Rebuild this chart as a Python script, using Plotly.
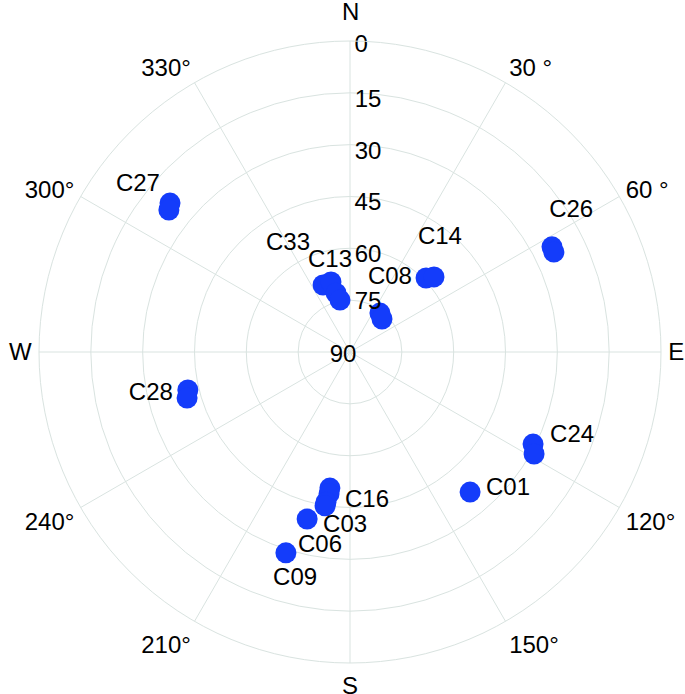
import plotly.graph_objects as go

# satellite tracks: elevation (deg) and azimuth (deg), a few epochs each
sat_names = ["C27", "C26", "C14", "C08", "C33", "C13", "C28",
             "C24", "C01", "C16", "C03", "C06", "C09"]
sat_el = [[22.4, 23.4], [24.1, 24.3], [59.3, 57.4], [75.8, 76.7],
          [69.1, 69.0], [72.5, 74.7], [41.8, 41.0], [30.7, 29.1],
          [36.6], [50.2, 48.5], [46.0, 44.9], [40.1], [29.0]]
sat_az = [[309.6, 308.1], [62.5, 63.9], [45.8, 48.2], [37.6, 44.1],
          [338.1, 344.8], [346.7, 349.1], [256.8, 254.2], [116.7, 119.0],
          [139.4], [188.4, 188.4], [189.1, 189.2], [194.4], [197.7]]

# where each PRN label sits (elevation, azimuth)
label_el = [11.9, 14.1, 48.0, 65.7, 54.0, 63.0, 31.1,
            21.3, 29.5, 46.6, 39.6, 33.2, 22.4]
label_az = [308.2, 57.5, 38.3, 28.4, 330.1, 347.6, 258.1,
            110.7, 130.9, 173.5, 181.6, 188.8, 193.6]

elev_ticks = [0, 15, 30, 45, 60, 75, 90]
# elevation labels sit just right of the north spoke, a bit below each ring
elev_lab_zen = [88.6, 72.8, 57.8, 43.1, 28.3, 15.1, 2.3]
elev_lab_az = [2.1, 4.1, 5.2, 6.9, 10.6, 20.2, 240.3]

az_ticks = [0, 30, 60, 90, 120, 150, 180, 210, 240, 270, 300, 330]
az_labels = ["", "30 °", "60 °", "E", "120°", "150°", "S",
             "210°", "240°", "W", "300°", "330°"]

grid = "#d9e3e0"
dot = "#143cfa"
font = dict(family="Liberation Sans, Arial, sans-serif", size=24, color="black")

fig = go.Figure()

for name, el, az in zip(sat_names, sat_el, sat_az):
    fig.add_trace(go.Scatterpolar(
        r=[90 - e for e in el],
        theta=az,
        mode="markers",
        marker=dict(size=21, color=dot),
        name=name,
        showlegend=False,
    ))

fig.add_trace(go.Scatterpolar(
    r=[90 - e for e in label_el],
    theta=label_az,
    mode="text",
    text=sat_names,
    textfont=font,
    showlegend=False,
))

fig.add_trace(go.Scatterpolar(
    r=elev_lab_zen,
    theta=elev_lab_az,
    mode="text",
    text=[str(e) for e in elev_ticks],
    textfont=font,
    showlegend=False,
    hoverinfo="skip",
))

fig.update_layout(
    width=685, height=694,
    margin=dict(l=39, r=24, t=41, b=31),
    paper_bgcolor="white",
    font=font,
    polar=dict(
        bgcolor="white",
        radialaxis=dict(
            range=[0, 90],
            tickvals=[90 - e for e in elev_ticks],
            angle=90,
            showticklabels=False,
            showline=False,
            ticks="",
            gridcolor=grid,
            gridwidth=1,
        ),
        angularaxis=dict(
            rotation=90,
            direction="clockwise",
            tickvals=az_ticks,
            ticktext=az_labels,
            showline=True,
            linecolor=grid,
            linewidth=1,
            gridcolor=grid,
            gridwidth=1,
            ticks="outside",
            ticklen=2,
            tickcolor="rgba(0,0,0,0)",
            tickfont=font,
        ),
    ),
    annotations=[dict(
        text="N", xref="paper", yref="paper", x=0.5, y=1.048,
        xanchor="center", yanchor="middle", showarrow=False, font=font,
    )],
)

fig.write_html("out.html", config={"displayModeBar": False},
               post_script="document.body.style.margin = '0';")
